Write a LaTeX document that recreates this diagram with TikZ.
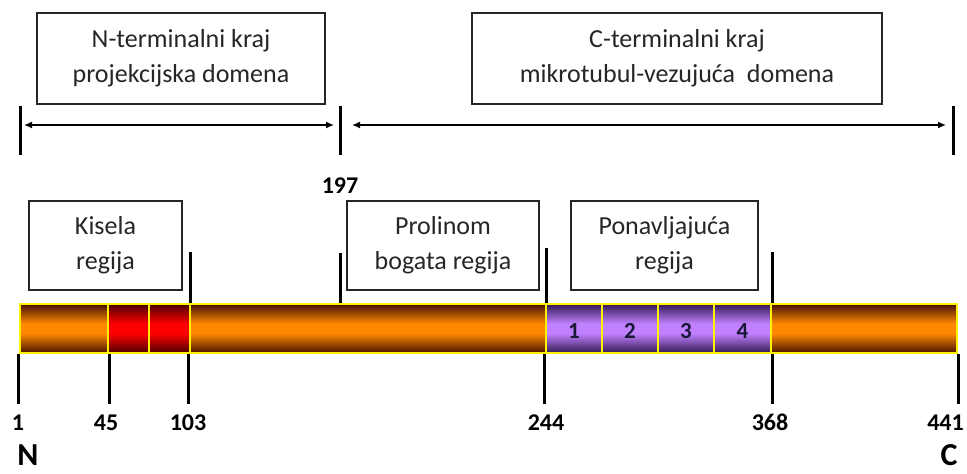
\documentclass[tikz,border=0pt]{standalone}
\usepackage{fontspec}
\setmainfont{Carlito}
\usetikzlibrary{arrows.meta}

\definecolor{bardark}{RGB}{70,18,0}
\definecolor{barorange}{RGB}{255,136,0}
\definecolor{reddark}{RGB}{75,0,0}
\definecolor{redmid}{RGB}{255,0,0}
\definecolor{purpledark}{RGB}{50,25,80}
\definecolor{purplemid}{RGB}{192,128,255}
\definecolor{boxtext}{RGB}{38,38,38}
\definecolor{repeattext}{RGB}{25,25,55}

\pgfdeclareverticalshading{orangeshade}{100bp}{color(0bp)=(bardark); color(25bp)=(bardark); color(45bp)=(barorange); color(55bp)=(barorange); color(75bp)=(bardark); color(100bp)=(bardark)}
\pgfdeclareverticalshading{redshade}{100bp}{color(0bp)=(reddark); color(25bp)=(reddark); color(45bp)=(redmid); color(55bp)=(redmid); color(75bp)=(reddark); color(100bp)=(reddark)}
\pgfdeclareverticalshading{purpleshade}{100bp}{color(0bp)=(purpledark); color(25bp)=(purpledark); color(45bp)=(purplemid); color(55bp)=(purplemid); color(75bp)=(purpledark); color(100bp)=(purpledark)}

\tikzset{
    labelbox/.style={draw=boxtext, line width=1.2pt, fill=white, inner sep=0pt, align=center,
        text=boxtext, font=\fontsize{26}{35}\selectfont},
    segment/.style={draw=yellow, line width=2.5pt, inner sep=0pt, minimum height=49pt,
        text height=19pt, text depth=0pt,
        text=repeattext, font=\bfseries\fontsize{23}{24}\selectfont},
    posnum/.style={inner sep=0pt, anchor=base, text=black, font=\bfseries\fontsize{24}{28}\selectfont},
}

\begin{document}
\begin{tikzpicture}[x=1pt, y=-1pt]
\useasboundingbox (0,0) rectangle (967,474);
\begin{scope}[every node/.style={labelbox}]
    \node[minimum width=288pt, minimum height=91pt] (nterm) at (181,58.5) {N-terminalni kraj\\projekcijska domena};
    \node[minimum width=410pt, minimum height=91pt] (cterm) at (677,58.5) {C-terminalni kraj\\mikrotubul-vezujuća\ \ domena};
    \node[minimum width=153pt, minimum height=89pt] (kisela) at (105.5,245.5) {Kisela\\regija};
    \node[minimum width=192pt, minimum height=89pt] (prolin) at (443,245.5) {Prolinom\\bogata regija};
    \node[minimum width=187pt, minimum height=89pt] (ponav) at (664.5,245.5) {Ponavljajuća\\regija};
\end{scope}
% protein bar
\begin{scope}[every node/.style={segment}]
    \node[shading=orangeshade, minimum width=88pt] (s1) at (64,328.5) {};
    \node[shading=redshade, minimum width=41pt] (s2) at (128.5,328.5) {};
    \node[shading=redshade, minimum width=41pt] (s3) at (169.5,328.5) {};
    \node[shading=orangeshade, minimum width=356pt] (s4) at (368,328.5) {};
    \node[shading=purpleshade, minimum width=56pt] (r1) at (574,328.5) {1};
    \node[shading=purpleshade, minimum width=56pt] (r2) at (630,328.5) {2};
    \node[shading=purpleshade, minimum width=56pt] (r3) at (686,328.5) {3};
    \node[shading=purpleshade, minimum width=57pt] (r4) at (742.5,328.5) {4};
    \node[shading=orangeshade, minimum width=186pt] (s5) at (864,328.5) {};
\end{scope}
% tick ends
\coordinate (tn1) at (20,106);   \coordinate (tn2) at (20,155);
\coordinate (tm1) at (340,106);  \coordinate (tm2) at (340,155);
\coordinate (tc1) at (953,106);  \coordinate (tc2) at (953,155);
\coordinate (an) at (20,125);    \coordinate (am) at (340,125);    \coordinate (ac) at (953,125);
\coordinate (u1) at (190,252);   \coordinate (u2) at (340,253);
\coordinate (u3) at (546,248);   \coordinate (u4) at (772,252);
\begin{scope}[every edge/.style={draw=black, line width=3pt}]
    \path (tn1) edge (tn2);
    \path (tm1) edge (tm2);
    \path (tc1) edge (tc2);
    \path (u1) edge (u1 |- s4.north);
    \path (u2) edge (u2 |- s4.north);
    \path (u3) edge (u3 |- s4.north);
    \path (u4) edge (u4 |- s4.north);
    \path (s1.south west) edge +(0,50);
    \path (s1.south east) edge +(0,50);
    \path (s4.south west) edge +(0,50);
    \path (r1.south west) edge +(0,50);
    \path (r4.south east) edge +(0,50);
    \path (s5.south east) edge +(0,50);
\end{scope}
\begin{scope}[every edge/.style={draw=black, line width=1.5pt, {Latex[length=8pt,width=7pt]}-{Latex[length=8pt,width=7pt]}}]
    \path (an) edge[shorten <=4pt, shorten >=6pt] (am);
    \path (am) edge[shorten <=12pt, shorten >=7pt] (ac);
\end{scope}
% positions
\begin{scope}[every node/.style={posnum}]
    \node (p197) at (340,193) {197};
    \node (p1) at (18,430) {1};
    \node (p45) at (106,430) {45};
    \node (p103) at (188,430) {103};
    \node (p244) at (546,430) {244};
    \node (p368) at (770,430) {368};
    \node[anchor=base east] (p441) at (964,430) {441};
    \node[font=\bfseries\fontsize{32}{34}\selectfont] (nend) at (28,465) {N};
    \node[font=\bfseries\fontsize{32}{34}\selectfont] (cend) at (949,465) {C};
\end{scope}
\end{tikzpicture}
\end{document}
